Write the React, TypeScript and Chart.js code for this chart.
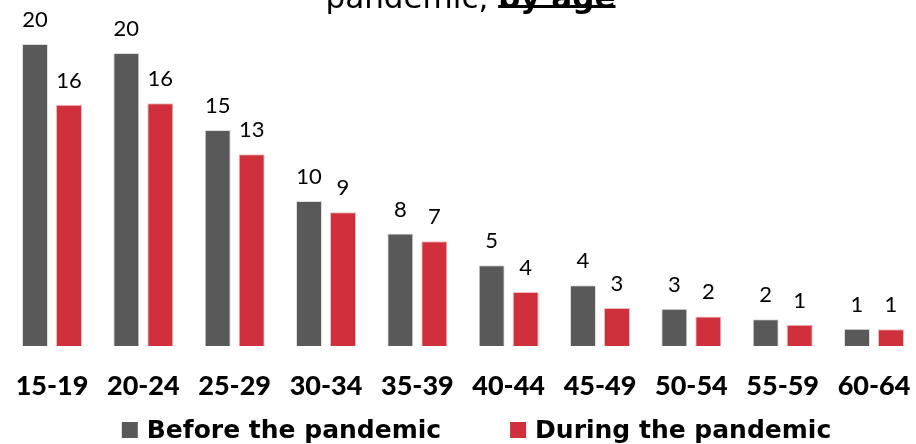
import React, { useEffect, useRef } from "react";
import { Chart, registerables } from "chart.js";

Chart.register(...registerables);

const categories = ["15-19", "20-24", "25-29", "30-34", "35-39", "40-44", "45-49", "50-54", "55-59", "60-64"];
const beforeValues = [20.4, 19.8, 14.6, 9.8, 7.6, 5.45, 4.1, 2.52, 1.8, 1.17];
const duringValues = [16.3, 16.4, 12.95, 9.03, 7.07, 3.65, 2.57, 2.0, 1.44, 1.13];
const seriesNames = ["Before the pandemic", "During the pandemic"];
const seriesColors = ["#595959", "#CF303B"];
const titleRegular = "pandemic, ";
const titleBold = "by age";

const FONT = "Lato, 'Open Sans', sans-serif";
const WIDE = "'DejaVu Sans', sans-serif";

const valueLabelPlugin = {
  id: "valueLabels",
  afterDatasetsDraw(chart: any) {
    const ctx = chart.ctx;
    ctx.save();
    ctx.font = `22px ${FONT}`;
    ctx.fillStyle = "#000";
    ctx.textAlign = "center";
    ctx.textBaseline = "alphabetic";
    chart.data.datasets.forEach((ds: any, di: number) => {
      const meta = chart.getDatasetMeta(di);
      meta.data.forEach((bar: any, i: number) => {
        const v = ds.data[i];
        ctx.fillText(String(Math.round(v)), bar.x, bar.y - 17);
      });
    });
    ctx.restore();
  },
};

const titleLegendPlugin = {
  id: "titleLegend",
  afterDraw(chart: any) {
    const ctx = chart.ctx;
    ctx.save();
    // title (only its last line is visible)
    ctx.textBaseline = "alphabetic";
    ctx.fillStyle = "#000";
    ctx.font = `31px ${WIDE}`;
    const wr = ctx.measureText(titleRegular).width;
    ctx.font = `bold 31px ${WIDE}`;
    const wb = ctx.measureText(titleBold).width;
    const tx = 470.5 - (wr + wb) / 2;
    ctx.textAlign = "left";
    ctx.font = `31px ${WIDE}`;
    ctx.fillText(titleRegular, tx, 8);
    ctx.font = `bold 31px ${WIDE}`;
    ctx.fillText(titleBold, tx + wr, 8);
    ctx.fillRect(tx + wr, 5, wb, 3);

    // legend
    ctx.font = `bold 25px ${WIDE}`;
    const box = 16;
    const gapText = 9;
    const gapItem = 69;
    const widths = seriesNames.map((n) => ctx.measureText(n).width);
    const total = widths.reduce((a, w) => a + box + gapText + w, 0) + gapItem * (seriesNames.length - 1);
    let x = 476.5 - total / 2;
    seriesNames.forEach((name, i) => {
      ctx.fillStyle = seriesColors[i];
      ctx.fillRect(x, 422, box, box);
      ctx.fillStyle = "#000";
      ctx.fillText(name, x + box + gapText, 438);
      x += box + gapText + widths[i] + gapItem;
    });
    ctx.restore();
  },
};

export default function App() {
  const canvasRef = useRef<HTMLCanvasElement | null>(null);

  useEffect(() => {
    if (!canvasRef.current) return;
    const chart = new Chart(canvasRef.current, {
      type: "bar",
      data: {
        labels: categories,
        datasets: [
          {
            label: seriesNames[0],
            data: beforeValues,
            backgroundColor: seriesColors[0],
            borderColor: "rgba(220,220,220,0.9)",
            borderWidth: 1,
            categoryPercentage: 68 / 91.33,
            barPercentage: 26 / 34,
          },
          {
            label: seriesNames[1],
            data: duringValues,
            backgroundColor: seriesColors[1],
            borderColor: "rgba(240,180,185,0.9)",
            borderWidth: 1,
            categoryPercentage: 68 / 91.33,
            barPercentage: 26 / 34,
          },
        ],
      },
      options: {
        animation: false,
        responsive: true,
        maintainAspectRatio: false,
        layout: { padding: { left: 6.33, right: 10.33, top: 20.4, bottom: 0 } },
        plugins: {
          legend: { display: false },
          tooltip: { enabled: false },
          title: { display: false },
        },
        scales: {
          x: {
            grid: { display: false },
            border: { display: false },
            ticks: {
              color: "#000",
              font: { family: FONT, size: 27, weight: "900" },
              padding: 16,
              maxRotation: 0,
              autoSkip: false,
            },
            afterFit: (scale: any) => {
              scale.height = 98;
              scale.paddingLeft = 0;
              scale.paddingRight = 0;
            },
          },
          y: {
            display: false,
            min: 0,
            max: 22,
          },
        },
      },
      plugins: [valueLabelPlugin, titleLegendPlugin],
    });
    return () => chart.destroy();
  }, []);

  return (
    <div style={{ position: "fixed", left: 0, top: 0, width: 916, height: 444, overflow: "hidden", background: "#fff" }}>
      <div style={{ position: "relative", width: 930, height: 444 }}>
        <canvas ref={canvasRef} />
      </div>
    </div>
  );
}
